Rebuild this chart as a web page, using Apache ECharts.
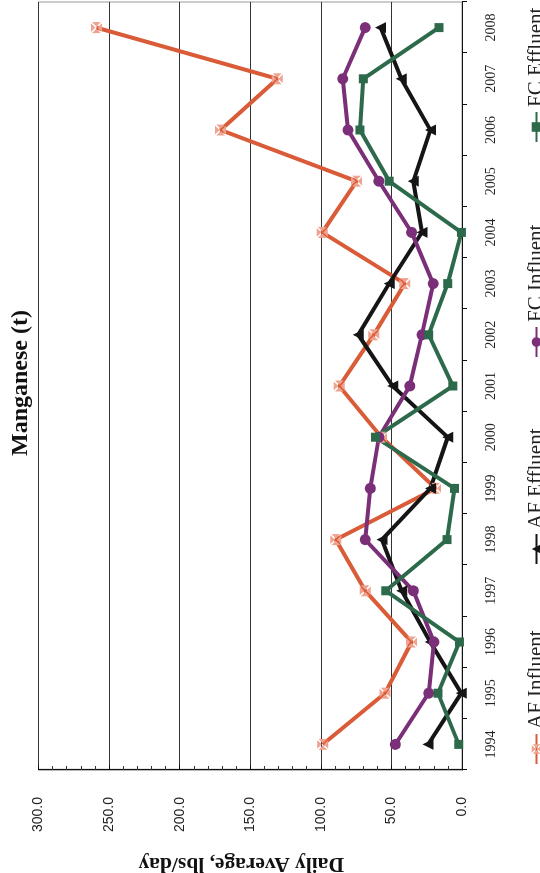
<!DOCTYPE html>
<html>
<head>
<meta charset="utf-8">
<script src="https://cdn.jsdelivr.net/npm/echarts@6/dist/echarts.min.js"></script>
<style>
  html, body { margin: 0; padding: 0; width: 540px; height: 873px; overflow: hidden; background: #fff; }
  #chart { position: absolute; left: 0; top: 0; width: 873px; height: 540px;
           transform-origin: 0 0; transform: translate(0px, 873px) rotate(-90deg); }
</style>
</head>
<body>
<div id="chart"></div>
<script>
const titleText = 'Manganese (t)';
const valueAxisName = 'Daily Average, lbs/day';
const years = ['1994','1995','1996','1997','1998','1999','2000','2001','2002','2003','2004','2005','2006','2007','2008'];
const afInfluent = [98.6, 54.5, 35.7, 68.6, 89.4, 18.7, 57.0, 86.9, 62.5, 40.6, 99.0, 74.7, 171.0, 130.8, 259.0];
const afEffluent = [24.0, 0.5, 22.5, 42.7, 56.7, 22.4, 10.1, 49.1, 73.5, 51.6, 28.4, 34.5, 22.4, 43.0, 57.7];
const fcInfluent = [47.2, 23.6, 19.9, 34.5, 68.6, 65.0, 58.9, 37.0, 28.4, 20.4, 35.7, 58.9, 80.8, 84.5, 68.6];
const fcEffluent = [2.3, 17.0, 1.8, 54.0, 10.6, 5.3, 61.3, 6.5, 23.6, 10.1, 0.4, 51.6, 72.3, 69.9, 16.3];
const seriesNames = ['AF Influent', 'AF Effluent', 'FC Influent', 'FC Effluent'];
const legendLefts = [103, 303, 510, 725];

const boxX = 'path://M1 0L9 0L5 4Z M10 1L10 9L6 5Z M9 10L1 10L5 6Z M0 9L0 1L4 5Z';
const chart = echarts.init(document.getElementById('chart'), null, { renderer: 'canvas' });

function mk(name, data, color, symbol, size, symColor) {
  return {
    name, type: 'line', data, symbol, symbolSize: size,
    lineStyle: { color, width: 4 },
    itemStyle: { color: symColor || color },
    emphasis: { disabled: true }
  };
}

chart.setOption({
  animation: false,
  backgroundColor: '#fff',
  graphic: [{
    type: 'text', x: 490, y: 21,
    style: { text: titleText, textAlign: 'center', textVerticalAlign: 'middle',
             font: 'bold 24px "Liberation Serif", serif', fill: '#111' }
  }],
  legend: seriesNames.map((n, i) => ({
    data: [n],
    left: legendLefts[i], top: 521,
    itemWidth: 30, itemHeight: 12,
    textStyle: { fontFamily: '"Liberation Serif", serif', fontSize: 21, color: '#222' }
  })),
  grid: { left: 103, right: 2, top: 38.5, bottom: 78, show: true, borderColor: '#999', borderWidth: 1,
          containLabel: false, outerBoundsMode: 'none' },
  xAxis: {
    type: 'category', data: years, boundaryGap: true,
    axisLine: { lineStyle: { color: '#111', width: 1.2 } },
    axisTick: { show: true, length: 5, lineStyle: { color: '#111' } },
    axisLabel: { margin: 22, fontFamily: '"Liberation Serif", serif', fontSize: 14, color: '#222' }
  },
  yAxis: {
    type: 'value', min: 0, max: 300, interval: 50,
    name: valueAxisName, nameLocation: 'middle', nameGap: 83,
    nameTextStyle: { fontFamily: '"Liberation Serif", serif', fontWeight: 'bold', fontSize: 21.5, color: '#111', padding: [0, 0, 0, 18] },
    axisLine: { show: true, lineStyle: { color: '#111', width: 1.2 } },
    axisTick: { show: true, inside: true, length: 5, lineStyle: { color: '#111' } },
    minorTick: { show: true, splitNumber: 5, length: 4, lineStyle: { color: '#333' } },
    splitLine: { show: true, lineStyle: { color: '#333', width: 1 } },
    axisLabel: { margin: 27, formatter: v => v.toFixed(1), fontFamily: '"Liberation Sans", sans-serif', fontSize: 14, color: '#222' }
  },
  series: [
    mk(seriesNames[0], afInfluent, '#d95b37', boxX, 11, '#efa28f'),
    mk(seriesNames[1], afEffluent, '#151515', 'triangle', 11),
    mk(seriesNames[2], fcInfluent, '#7a2f78', 'circle', 11),
    mk(seriesNames[3], fcEffluent, '#2d6a4b', 'rect', 9)
  ]
});
</script>
</body>
</html>
